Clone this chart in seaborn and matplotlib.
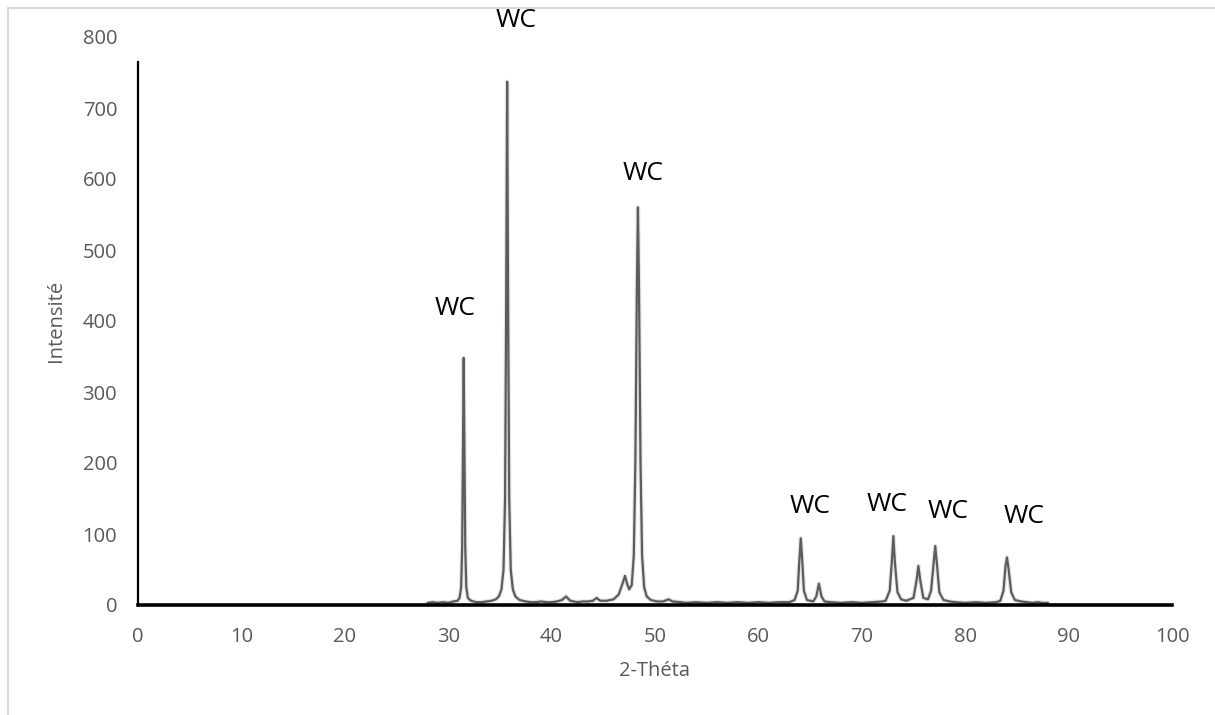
import matplotlib
matplotlib.use("Agg")
import matplotlib.pyplot as plt
import matplotlib.patheffects as pe
from matplotlib.patches import Rectangle
import seaborn as sns
import pandas as pd

# 2-theta positions and intensities
two_theta = [
    28.0, 28.5, 29.0, 29.5, 30.0, 30.5, 30.9, 31.1, 31.25, 31.35, 31.45, 31.5, 31.55, 31.65,
    31.75, 31.9, 32.2, 32.7, 33.2, 33.7, 34.2, 34.6, 34.9, 35.15, 35.35, 35.5, 35.6, 35.7,
    35.8, 35.9, 36.05, 36.25, 36.5, 36.9, 37.5, 38.0, 38.5, 39.0, 39.5, 40.0, 40.5, 41.0,
    41.4, 41.8, 42.5, 43.0, 43.5, 44.0, 44.35, 44.7, 45.3, 46.0, 46.5, 46.9, 47.1, 47.3,
    47.5, 47.75, 47.95, 48.1, 48.25, 48.35, 48.45, 48.6, 48.75, 48.95, 49.2, 49.6, 50.2,
    50.8, 51.3, 51.7, 52.5, 53.0, 54.0, 55.0, 56.0, 57.0, 58.0, 59.0, 60.0, 61.0, 62.0,
    63.0, 63.5, 63.8, 63.95, 64.1, 64.25, 64.4, 64.7, 65.3, 65.6, 65.85, 66.1, 66.4, 67.0,
    68.0, 69.0, 70.0, 71.0, 72.0, 72.3, 72.7, 72.9, 73.05, 73.2, 73.45, 73.8, 74.3, 75.0,
    75.3, 75.47, 75.65, 75.95, 76.4, 76.7, 76.95, 77.1, 77.25, 77.5, 77.9, 78.5, 79.0,
    80.0, 81.0, 82.0, 83.0, 83.4, 83.7, 83.9, 84.04, 84.2, 84.45, 84.8, 85.4, 86.0, 86.5,
    87.0, 87.5, 88.0,
]
intensity = [
    3, 4, 3, 4, 3, 5, 6, 10, 25, 80, 250, 348, 250, 80,
    25, 10, 6, 4, 4, 5, 6, 8, 12, 22, 50, 150, 400, 737,
    400, 150, 50, 22, 12, 7, 5, 4, 4, 5, 4, 4, 5, 7,
    12, 6, 4, 5, 5, 6, 10, 6, 6, 8, 15, 32, 41, 30,
    22, 28, 70, 200, 450, 560, 450, 200, 70, 25, 12, 7, 5,
    5, 8, 5, 4, 3, 4, 3, 4, 3, 4, 3, 4, 3, 4,
    4, 7, 20, 60, 94, 60, 20, 7, 5, 12, 30, 12, 5, 4,
    3, 4, 3, 4, 5, 6, 20, 60, 97, 60, 18, 8, 6, 10,
    35, 55, 35, 10, 8, 20, 60, 83, 60, 18, 7, 5, 4,
    3, 4, 3, 4, 6, 20, 55, 67, 50, 18, 7, 5, 4, 3,
    4, 3, 3,
]

# Peak annotations (label, x, y)
label_text = ["WC", "WC", "WC", "WC", "WC", "WC", "WC"]
label_x = [30.66, 36.56, 48.84, 65.0, 72.4, 78.3, 85.7]
label_y = [417, 823, 608, 139, 142, 131, 124]

x_ticks = [0, 10, 20, 30, 40, 50, 60, 70, 80, 90, 100]
y_ticks = [0, 100, 200, 300, 400, 500, 600, 700, 800]

sns.set_style("white")
plt.rcParams["font.family"] = ["Open Sans", "DejaVu Sans"]

df = pd.DataFrame({"2-Théta": two_theta, "Intensité": intensity})

fig = plt.figure(figsize=(12.15, 7.15), dpi=100)
ax = fig.add_axes([138 / 1215, 1 - 605 / 715, (1172 - 138) / 1215, (605 - 37) / 715])

sns.lineplot(data=df, x="2-Théta", y="Intensité", ax=ax, sort=False, estimator=None,
             color="#5c5c5c", linewidth=1.6,
             path_effects=[pe.SimpleLineShadow(offset=(0, 0), shadow_color="#c0c0c0",
                                               alpha=0.4, linewidth=3.2), pe.Normal()])

for t, lx, ly in zip(label_text, label_x, label_y):
    ax.text(lx, ly, t, ha="center", va="center", fontsize=19, color="black",
            clip_on=False)

ax.set_xlim(0, 100)
ax.set_ylim(0, 800)
ax.set_xticks(x_ticks)
ax.set_yticks(y_ticks)
ax.tick_params(axis="both", length=0, labelsize=14.5, labelcolor="#595959")
ax.tick_params(axis="y", pad=15)
ax.tick_params(axis="x", pad=16)
ax.set_xlabel("2-Théta", fontsize=14.5, color="#595959", labelpad=10)
ax.set_ylabel("Intensité", fontsize=14.5, color="#595959", labelpad=12)

for s in ["top", "right"]:
    ax.spines[s].set_visible(False)
ax.spines["left"].set_color("black")
ax.spines["left"].set_linewidth(1.6)
ax.spines["left"].set_bounds(0, 765)
ax.spines["bottom"].set_color("black")
ax.spines["bottom"].set_linewidth(2.6)
ax.grid(False)

# chart area frame
fig.patches.append(Rectangle((8 / 1215, -0.1), 1.2, 1 - 8 / 715 + 0.1,
                             transform=fig.transFigure, fill=False,
                             edgecolor="#d9d9d9", linewidth=1.5))

fig.savefig("out.png", dpi=100)
